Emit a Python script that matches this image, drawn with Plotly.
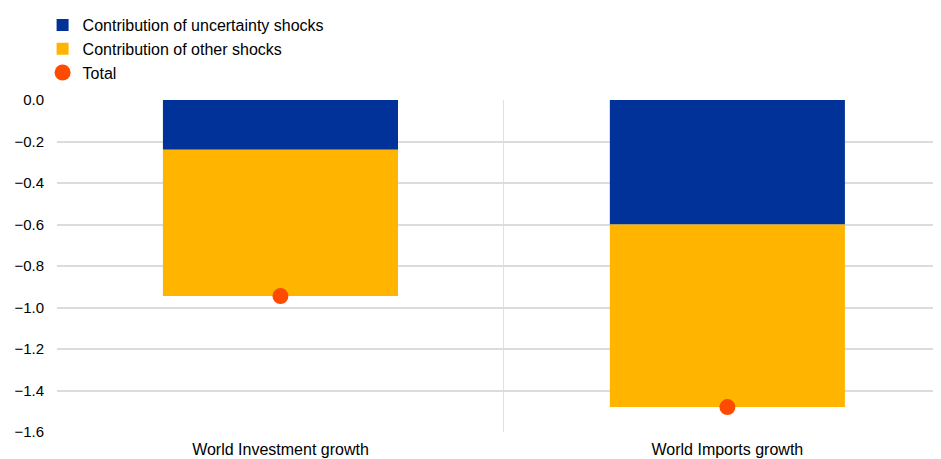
import plotly.graph_objects as go

categories = ["World Investment growth", "World Imports growth"]
uncertainty = [-0.24, -0.60]
other = [-0.705, -0.88]
total = [-0.945, -1.48]
y_ticks = [0.0, -0.2, -0.4, -0.6, -0.8, -1.0, -1.2, -1.4, -1.6]

xpos = list(range(len(categories)))

fig = go.Figure()
fig.add_trace(go.Bar(x=xpos, y=uncertainty, name="Contribution of uncertainty shocks",
                     marker=dict(color="#003299", line=dict(width=0)), width=0.526))
fig.add_trace(go.Bar(x=xpos, y=other, name="Contribution of other shocks",
                     marker=dict(color="#ffb400", line=dict(width=0)), width=0.526))
fig.add_trace(go.Scatter(x=xpos, y=total, name="Total", mode="markers",
                         marker=dict(color="#ff4b00", size=16)))

fig.update_layout(
    width=933, height=451,
    barmode="relative",
    plot_bgcolor="white", paper_bgcolor="white",
    margin=dict(l=49, r=0, t=92, b=27),
    font=dict(family="Liberation Sans, Arial, sans-serif", size=14, color="#000000"),
    showlegend=True,
    legend=dict(x=-0.0163, y=1.01, xref="paper", yref="container", xanchor="left", yanchor="top",
                orientation="v", font=dict(size=16), bgcolor="rgba(0,0,0,0)",
                tracegroupgap=0, itemwidth=30),
    xaxis=dict(
        range=[-0.5, 1.478],
        tickmode="array", tickvals=xpos, ticktext=categories,
        showgrid=False, zeroline=False,
        showline=False, ticks="",
        tickfont=dict(size=16),
        ticklabelstandoff=6,
        minor=dict(tickmode="array", tickvals=[-0.5, 0.5], showgrid=True,
                   gridcolor="#e0e0e0", gridwidth=1, ticks=""),
    ),
    yaxis=dict(
        range=[-1.6, 0.0],
        tickmode="array", tickvals=y_ticks,
        tickformat=".1f",
        showgrid=True, gridcolor="#dcdcdc", gridwidth=1.5,
        zeroline=False, showline=False, ticks="",
        ticklabelstandoff=12,
        tickfont=dict(size=15),
    ),
)

fig.write_html("out.html")
